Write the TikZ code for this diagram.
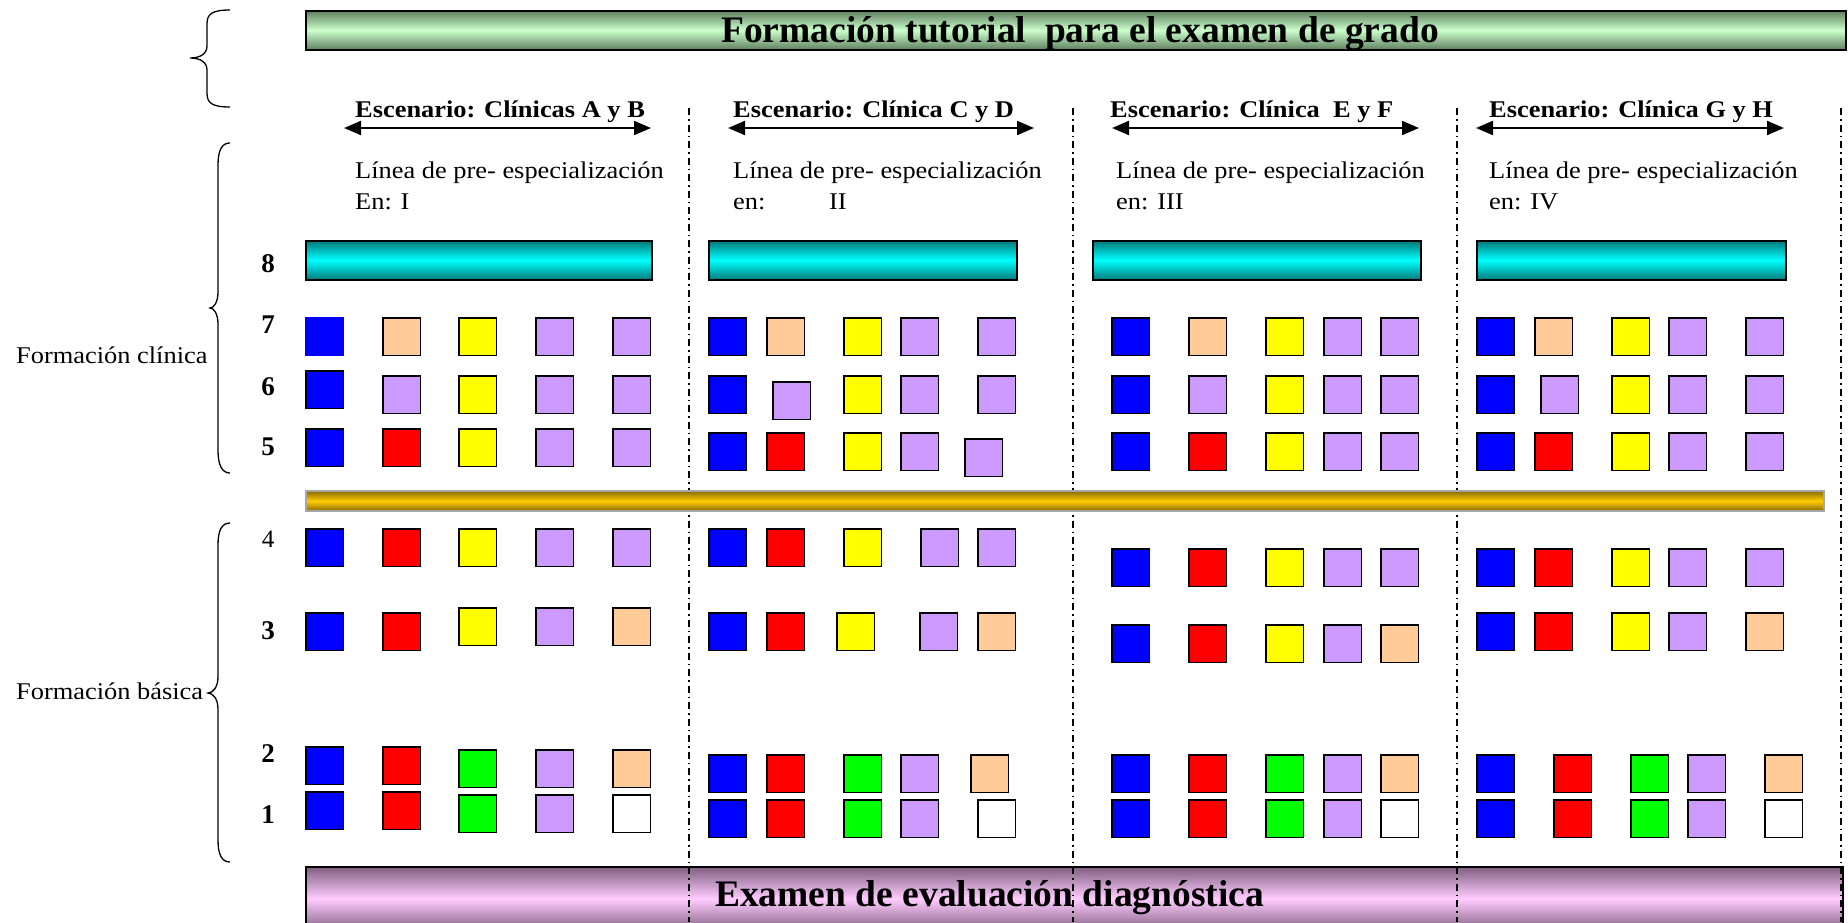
\documentclass[tikz,border=0pt]{standalone}
\usepackage{fontspec}
\setmainfont{Liberation Serif}
\newfontfamily\widefont{Liberation Serif}[FakeStretch=1.1]
\usetikzlibrary{arrows.meta}
\definecolor{qblue}{HTML}{0000FF}
\definecolor{qred}{HTML}{FF0000}
\definecolor{qyellow}{HTML}{FFFF00}
\definecolor{qgreen}{HTML}{00FF00}
\definecolor{qviolet}{HTML}{CC99FF}
\definecolor{qpeach}{HTML}{FFCC99}
\definecolor{gdark}{HTML}{5F7F5F}
\definecolor{glight}{HTML}{CCFFCC}
\definecolor{cdark}{HTML}{007A7A}
\definecolor{clight}{HTML}{00FFFF}
\definecolor{odark}{HTML}{8A6A00}
\definecolor{olight}{HTML}{FFCC00}
\definecolor{pdark}{HTML}{7F5F7F}
\definecolor{plight}{HTML}{FFCCFF}
\newcommand\sqrow[2]{\foreach \x/\y/\s [count=\i] in {#2} {\node[\s] (#1-\i) at (\x+19.5,\y+19.5) {};}}
\tikzset{
  sq/.style={draw=black, line width=1.5pt, minimum size=37.5pt, inner sep=0pt},
  sB/.style={sq, fill=qblue},
  sBn/.style={sq, draw=qblue, fill=qblue},
  sR/.style={sq, fill=qred},
  sY/.style={sq, fill=qyellow},
  sG/.style={sq, fill=qgreen},
  sV/.style={sq, fill=qviolet},
  sP/.style={sq, fill=qpeach},
  sW/.style={sq, fill=white},
  bar/.style={draw=black, line width=1.5pt, inner sep=0pt, anchor=north west},
  small/.style={inner sep=0pt, anchor=base west, font=\widefont\fontsize{24}{28}\selectfont},
  smallb/.style={inner sep=0pt, anchor=base west, font=\widefont\bfseries\fontsize{24}{28}\selectfont},
  num/.style={inner sep=0pt, anchor=base, font=\bfseries\fontsize{27}{30}\selectfont},
  big/.style={inner sep=0pt, font=\bfseries\fontsize{37.5}{40}\selectfont},
  sep/.style={line width=1.3pt, dash pattern=on 7pt off 4pt on 1.5pt off 4pt},
  dbl/.style={line width=2pt, {Triangle[length=17pt,width=14pt]}-{Triangle[length=17pt,width=14pt]}},
  brace/.style={line width=1.3pt}
}
\begin{document}
\begin{tikzpicture}[x=1pt,y=-1pt]
\useasboundingbox (0,0) rectangle (1848,922);
\fill[white] (0,0) rectangle (1848,922);
% bottom bar
\node[bar, minimum width=1537pt, minimum height=64pt, top color=pdark, bottom color=pdark, middle color=plight] (exam) at (305,866) {};
% separators
\foreach \xx [count=\k] in {689,1073,1457,1841} {
  \coordinate (st\k) at (\xx,108);
  \coordinate (sb\k) at (\xx,922);
  \draw[sep] (st\k) -- (sb\k);
}
% gold bar
\node[bar, draw=gray!70, line width=2pt, minimum width=1518pt, minimum height=20pt, top color=odark, bottom color=odark, middle color=olight] (gold) at (305,490) {};
% top bar
\node[bar, minimum width=1540pt, minimum height=39pt, top color=gdark, bottom color=gdark, middle color=glight] (tut) at (305,10) {};
\node[big, anchor=base] (tuttext) at (1080,42) {Formación tutorial\ \ para el examen de grado};
\node[big, anchor=base west] (examtext) at (715,906) {Examen de evaluación diagnóstica};
% cyan bars
\node[bar, minimum width=346pt, minimum height=39pt, top color=cdark, bottom color=cdark, middle color=clight] (cy1) at (305,240) {};
\node[bar, minimum width=308pt, minimum height=39pt, top color=cdark, bottom color=cdark, middle color=clight] (cy2) at (708,240) {};
\node[bar, minimum width=328pt, minimum height=39pt, top color=cdark, bottom color=cdark, middle color=clight] (cy3) at (1092,240) {};
\node[bar, minimum width=309pt, minimum height=39pt, top color=cdark, bottom color=cdark, middle color=clight] (cy4) at (1476,240) {};
% scenario headings
\node[smallb] (h1) at (355,117) {Escenario: Clínicas A y B};
\node[smallb] (h2) at (733,117) {Escenario: Clínica C y D};
\node[smallb] (h3) at (1110,117) {Escenario: Clínica\ \ E y F};
\node[smallb] (h4) at (1489,117) {Escenario: Clínica G y H};
\coordinate (a1l) at (344,128); \coordinate (a1r) at (651,128);
\coordinate (a2l) at (728,128); \coordinate (a2r) at (1034,128);
\coordinate (a3l) at (1112,128); \coordinate (a3r) at (1419,128);
\coordinate (a4l) at (1476,128); \coordinate (a4r) at (1784,128);
\foreach \k in {1,2,3,4} {\draw[dbl] (a\k l) -- (a\k r);}
% lines
\node[small] (l1a) at (355,178) {Línea de pre- especialización};
\node[small] (l1b) at (355,209) {En: I};
\node[small] (l2a) at (733,178) {Línea de pre- especialización};
\node[small] (l2b) at (733,209) {\makebox[96pt][l]{en:}II};
\node[small] (l3a) at (1116,178) {Línea de pre- especialización};
\node[small] (l3b) at (1116,209) {en: III};
\node[small] (l4a) at (1489,178) {Línea de pre- especialización};
\node[small] (l4b) at (1489,209) {en: IV};
% row numbers
\node[num] (n8) at (268,272) {8};
\node[num] (n7) at (268,333) {7};
\node[num] (n6) at (268,395) {6};
\node[num] (n5) at (268,455) {5};
\node[num, font=\fontsize{25}{28}\selectfont] (n4) at (268,547) {4};
\node[num] (n3) at (268,639) {3};
\node[num] (n2) at (268,762) {2};
\node[num] (n1) at (268,823) {1};
% side labels
\node[small] (fc) at (16,363) {Formación clínica};
\node[small] (fb) at (16,699) {Formación básica};
% braces
\draw[brace] (230,10) .. controls (212,10) and (207,14) .. (207,24) -- (207,46) .. controls (207,54) and (200,58) .. (190,58) .. controls (200,58) and (207,62) .. (207,70) -- (207,93) .. controls (207,103) and (212,107) .. (230,107);
\draw[brace] (230,143) .. controls (222,143) and (218,150) .. (218,165) -- (218,292) .. controls (218,302) and (214,308) .. (210,308) .. controls (214,308) and (218,314) .. (218,324) -- (218,450) .. controls (218,465) and (222,473) .. (230,473);
\draw[brace] (230,523) .. controls (222,523) and (218,530) .. (218,545) -- (218,677) .. controls (218,687) and (213,693) .. (208,693) .. controls (213,693) and (218,699) .. (218,709) -- (218,840) .. controls (218,855) and (222,862) .. (230,862);
% column 1
\sqrow{c1r7}{305/317/sBn,382/317/sP,458/317/sY,535/317/sV,612/317/sV}
\sqrow{c1r6}{305/370/sB,382/375/sV,458/375/sY,535/375/sV,612/375/sV}
\sqrow{c1r5}{305/428/sB,382/428/sR,458/428/sY,535/428/sV,612/428/sV}
\sqrow{c1r4}{305/528/sB,382/528/sR,458/528/sY,535/528/sV,612/528/sV}
\sqrow{c1r3}{305/612/sB,382/612/sR,458/607/sY,535/607/sV,612/607/sP}
\sqrow{c1r2}{305/746/sB,382/746/sR,458/749/sG,535/749/sV,612/749/sP}
\sqrow{c1r1}{305/791/sB,382/791/sR,458/794/sG,535/794/sV,612/794/sW}
% column 2
\sqrow{c2r7}{708/317/sB,766/317/sP,843/317/sY,900/317/sV,977/317/sV}
\sqrow{c2r6}{708/375/sB,772/381/sV,843/375/sY,900/375/sV,977/375/sV}
\sqrow{c2r5}{708/432/sB,766/432/sR,843/432/sY,900/432/sV,964/438/sV}
\sqrow{c2r4}{708/528/sB,766/528/sR,843/528/sY,920/528/sV,977/528/sV}
\sqrow{c2r3}{708/612/sB,766/612/sR,836/612/sY,919/612/sV,977/612/sP}
\sqrow{c2r2}{708/754/sB,766/754/sR,843/754/sG,900/754/sV,970/754/sP}
\sqrow{c2r1}{708/799/sB,766/799/sR,843/799/sG,900/799/sV,977/799/sW}
% column 3
\sqrow{c3r7}{1111/317/sB,1188/317/sP,1265/317/sY,1323/317/sV,1380/317/sV}
\sqrow{c3r6}{1111/375/sB,1188/375/sV,1265/375/sY,1323/375/sV,1380/375/sV}
\sqrow{c3r5}{1111/432/sB,1188/432/sR,1265/432/sY,1323/432/sV,1380/432/sV}
\sqrow{c3r4}{1111/548/sB,1188/548/sR,1265/548/sY,1323/548/sV,1380/548/sV}
\sqrow{c3r3}{1111/624/sB,1188/624/sR,1265/624/sY,1323/624/sV,1380/624/sP}
\sqrow{c3r2}{1111/754/sB,1188/754/sR,1265/754/sG,1323/754/sV,1380/754/sP}
\sqrow{c3r1}{1111/799/sB,1188/799/sR,1265/799/sG,1323/799/sV,1380/799/sW}
% column 4
\sqrow{c4r7}{1476/317/sB,1534/317/sP,1611/317/sY,1668/317/sV,1745/317/sV}
\sqrow{c4r6}{1476/375/sB,1540/375/sV,1611/375/sY,1668/375/sV,1745/375/sV}
\sqrow{c4r5}{1476/432/sB,1534/432/sR,1611/432/sY,1668/432/sV,1745/432/sV}
\sqrow{c4r4}{1476/548/sB,1534/548/sR,1611/548/sY,1668/548/sV,1745/548/sV}
\sqrow{c4r3}{1476/612/sB,1534/612/sR,1611/612/sY,1668/612/sV,1745/612/sP}
\sqrow{c4r2}{1476/754/sB,1553/754/sR,1630/754/sG,1687/754/sV,1764/754/sP}
\sqrow{c4r1}{1476/799/sB,1553/799/sR,1630/799/sG,1687/799/sV,1764/799/sW}
\end{tikzpicture}
\end{document}
